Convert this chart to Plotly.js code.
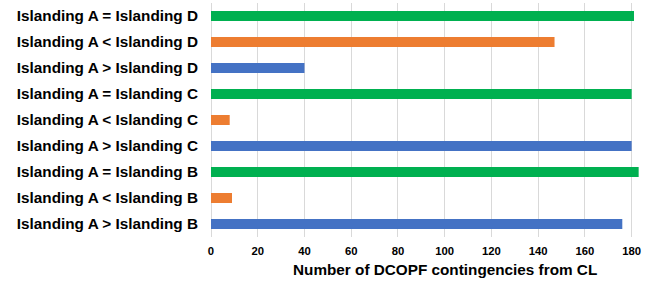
<!DOCTYPE html>
<html>
<head>
<meta charset="utf-8">
<script src="https://cdn.plot.ly/plotly-3.0.1.min.js"></script>
<style>html,body{margin:0;padding:0;background:#fff;}#chart{width:656px;height:281px;}</style>
</head>
<body>
<div id="chart"></div>
<script>
// Categories listed top to bottom
const categories = [
  "Islanding A = Islanding D",
  "Islanding A < Islanding D",
  "Islanding A > Islanding D",
  "Islanding A = Islanding C",
  "Islanding A < Islanding C",
  "Islanding A > Islanding C",
  "Islanding A = Islanding B",
  "Islanding A < Islanding B",
  "Islanding A > Islanding B"
];
const values = [181, 147, 40, 180, 8, 180, 183, 9, 176];
const relation = ["=", "<", ">", "=", "<", ">", "=", "<", ">"];
const tickVals = [0, 20, 40, 60, 80, 100, 120, 140, 160, 180];
const xTitle = "Number of DCOPF contingencies from CL";

const colorFor = {"=": "#00B050", "<": "#ED7D31", ">": "#4472C4"};
const font = "Liberation Sans, Arial, sans-serif";

const trace = {
  type: "bar",
  orientation: "h",
  y: categories,
  x: values,
  marker: {color: relation.map(r => colorFor[r])},
  hoverinfo: "x+y"
};

const layout = {
  width: 656, height: 281,
  margin: {l: 211, r: 15, t: 3, b: 44, pad: 0},
  paper_bgcolor: "#fff", plot_bgcolor: "#fff",
  showlegend: false,
  bargap: 0.615,
  xaxis: {
    range: [0, 184],
    tickvals: tickVals,
    ticktext: tickVals.map(String),
    showgrid: true, gridcolor: "#D9D9D9", gridwidth: 1,
    zeroline: true, zerolinecolor: "#D9D9D9", zerolinewidth: 1,
    showline: false, ticks: "",
    ticklabelstandoff: 6,
    tickfont: {family: font, size: 11.3, color: "#000", weight: "bold"}
  },
  yaxis: {
    type: "category",
    autorange: "reversed",
    showgrid: false, zeroline: false, showline: false, ticks: "",
    ticklabelstandoff: 12,
    tickfont: {family: font, size: 15.3, color: "#000", weight: "bold"}
  },
  annotations: [{
    text: xTitle, showarrow: false,
    xref: "paper", yref: "paper",
    x: (445 - 211) / (656 - 211 - 15), xanchor: "center",
    y: -(269 - 237) / (281 - 3 - 44), yanchor: "middle",
    font: {family: font, size: 15.3, color: "#000", weight: "bold"}
  }]
};

Plotly.newPlot("chart", [trace], layout, {displayModeBar: false, staticPlot: true});
</script>
</body>
</html>
